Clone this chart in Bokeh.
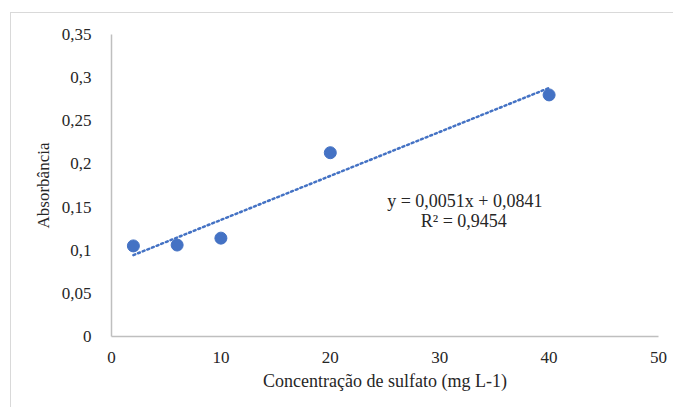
from bokeh.plotting import figure
from bokeh.models import Range1d, FixedTicker, Label
from bokeh.embed import file_html
from bokeh.resources import INLINE

# Data
concentration = [2, 6, 10, 20, 40]
absorbance = [0.105, 0.106, 0.114, 0.213, 0.280]
slope = 0.0051
intercept = 0.0841
r2 = 0.9454
x_ticks = [0, 10, 20, 30, 40, 50]
y_ticks = [0, 0.05, 0.1, 0.15, 0.2, 0.25, 0.3, 0.35]
equation_text = "y = 0,0051x + 0,0841"
r2_text = "R² = 0,9454"

FONT = "Liberation Serif"
AX_FONT = "'Liberation Serif'"
BLUE = "#4472C4"

p = figure(width=663, height=395, output_backend="svg", toolbar_location=None,
           x_range=Range1d(0, 50), y_range=Range1d(0, 0.35),
           min_border_left=100, min_border_right=16, min_border_top=21, min_border_bottom=72)
p.margin = (12, 0, 0, 10)
p.styles = {"border-top": "1px solid #d9d9d9", "border-left": "1px solid #d9d9d9"}
p.outline_line_color = None
p.xgrid.visible = False
p.ygrid.visible = False

# trendline
fit_x = [min(concentration), max(concentration)]
fit_y = [slope * v + intercept for v in fit_x]
p.line(fit_x, fit_y, line_color=BLUE, line_width=2.5, line_dash="2 3", line_cap="round")

p.scatter(concentration, absorbance, size=12, fill_color=BLUE, line_color=BLUE)

def fmt(v):
    s = ("%g" % v).replace(".", ",")
    return s

p.xaxis.ticker = FixedTicker(ticks=x_ticks)
p.yaxis.ticker = FixedTicker(ticks=y_ticks)
p.xaxis.major_label_overrides = {v: fmt(v) for v in x_ticks}
p.yaxis.major_label_overrides = {v: fmt(v) for v in y_ticks}

for ax in (p.xaxis, p.yaxis):
    ax.axis_line_color = "#bfbfbf"
    ax.axis_line_width = 1.5
    ax.major_tick_line_color = None
    ax.minor_tick_line_color = None
    ax.major_label_text_font = AX_FONT
    ax.major_label_text_font_size = "17px"
    ax.major_label_text_color = "#262626"
    ax.axis_label_text_font = AX_FONT
    ax.axis_label_text_font_style = "normal"
    ax.axis_label_text_color = "#262626"

p.xaxis.axis_label = "Concentração de sulfato (mg L-1)"
p.yaxis.axis_label = "Absorbância"
p.xaxis.axis_label_text_font_size = "18px"
p.yaxis.axis_label_text_font_size = "17px"
p.xaxis.major_label_standoff = 9
p.yaxis.major_label_standoff = 14
p.xaxis.axis_label_standoff = 5
p.yaxis.axis_label_standoff = 6

p.add_layout(Label(x=32.3, y=0.157, text=equation_text, text_font=FONT, text_font_size="18px",
                   text_align="center", text_baseline="middle", text_color="#262626"))
p.add_layout(Label(x=32.2, y=0.134, text=r2_text, text_font=FONT, text_font_size="18px",
                   text_align="center", text_baseline="middle", text_color="#262626"))

open("out.html", "w").write(file_html(p, INLINE))
